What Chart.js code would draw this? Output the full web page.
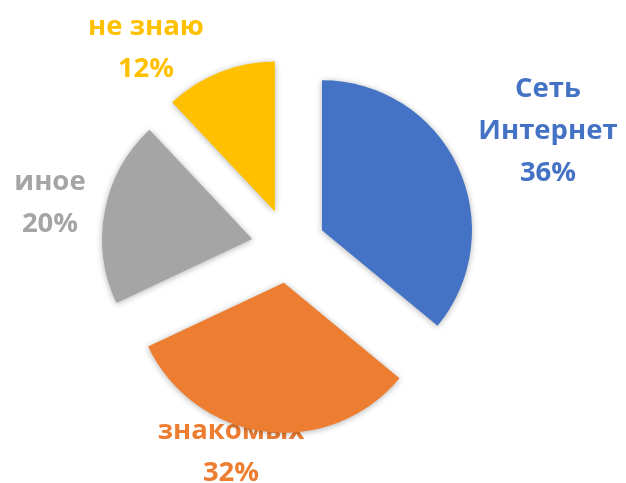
<!DOCTYPE html>
<html>
<head>
<meta charset="utf-8">
<script src="https://cdn.jsdelivr.net/npm/chart.js@4"></script>
<style>
  html, body { margin: 0; padding: 0; background: #fff; }
</style>
</head>
<body>
<canvas id="chart" width="626" height="483"></canvas>
<script>
const categories = ['Сеть\nИнтернет', 'от\nзнакомых', 'иное', 'не знаю'];
const values = [36, 32, 20, 12];
const colors = ['#4472C4', '#ED7D31', '#A5A5A5', '#FFC000'];

// label anchors (center x, first baseline) relative to the pie centre
const labelOffsets = [[259.5, -149], [-57.5, 151], [-238.5, -56], [-142.5, -211]];
const explode = 37;

const explodePlugin = {
  id: 'explode',
  afterDatasetUpdate(chart, args) {
    args.meta.data.forEach(arc => {
      const mid = (arc.startAngle + arc.endAngle) / 2;
      arc._cx = arc.x;
      arc._cy = arc.y;
      arc.x += Math.cos(mid) * explode;
      arc.y += Math.sin(mid) * explode;
    });
  }
};

const labelPlugin = {
  id: 'sliceLabels',
  beforeDatasetsDraw(chart) {
    const ctx = chart.ctx;
    const total = values.reduce((a, b) => a + b, 0);
    const arcs = chart.getDatasetMeta(0).data;
    ctx.save();
    ctx.font = 'bold 27.5px "Open Sans"';
    ctx.textAlign = 'center';
    ctx.textBaseline = 'alphabetic';
    arcs.forEach((arc, i) => {
      const lines = categories[i].split('\n');
      lines.push(Math.round(values[i] / total * 100) + '%');
      ctx.fillStyle = colors[i];
      const x = arc._cx + labelOffsets[i][0];
      const y = arc._cy + labelOffsets[i][1];
      lines.forEach((t, k) => ctx.fillText(t, x, y + k * 42));
    });
    ctx.restore();
    // soft shadow under the slices
    ctx.save();
    ctx.shadowColor = 'rgba(0,0,0,0.3)';
    ctx.shadowBlur = 6;
    ctx.shadowOffsetY = 1;
  },
  afterDatasetsDraw(chart) {
    chart.ctx.restore();
  }
};

new Chart(document.getElementById('chart'), {
  type: 'pie',
  data: {
    labels: categories,
    datasets: [{
      data: values,
      backgroundColor: colors,
      borderWidth: 0,
      radius: 150,
      clip: false
    }]
  },
  options: {
    responsive: false,
    animation: false,
    layout: { padding: { left: 0, right: 49, top: 9, bottom: 0 } },
    plugins: {
      legend: { display: false },
      tooltip: { enabled: false }
    },
    events: []
  },
  plugins: [explodePlugin, labelPlugin]
});
</script>
</body>
</html>
